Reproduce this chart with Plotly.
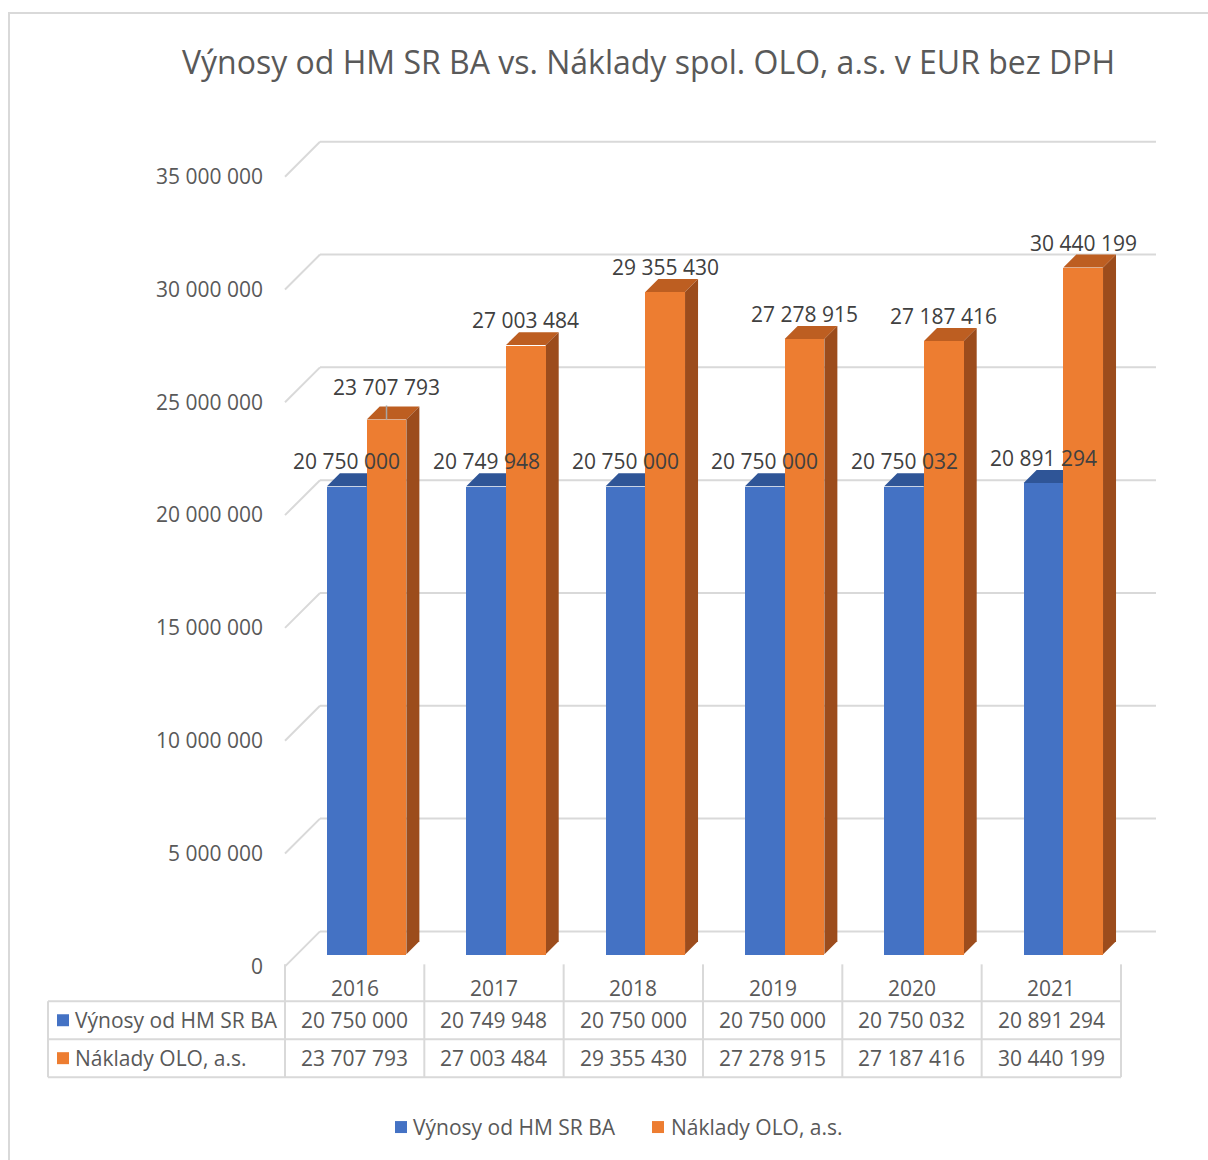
import plotly.graph_objects as go

# ---------------- data ----------------
years = ["2016", "2017", "2018", "2019", "2020", "2021"]
vynosy = [20750000, 20749948, 20750000, 20750000, 20750032, 20891294]
naklady = [23707793, 27003484, 29355430, 27278915, 27187416, 30440199]
series_names = ["Výnosy od HM SR BA", "Náklady OLO, a.s."]
y_ticks = [0, 5000000, 10000000, 15000000, 20000000, 25000000, 30000000, 35000000]
title_text = "Výnosy od HM SR BA vs. Náklady spol. OLO, a.s. v EUR bez DPH"

# ---------------- styling / geometry ----------------
W, H = 1208, 1160
FONT = "Open Sans"
FS = 21
TXT = "#595959"
LBL = "#404040"
GRID = "#D9D9D9"
BLUE, BLUE_TOP, BLUE_SIDE = "#4472C4", "#2F5597", "#2A4D8C"
ORNG, ORNG_TOP, ORNG_SIDE = "#ED7D31", "#BD5E21", "#9C4C1C"

PXU = 139.33          # pixels per category
PXM = 22.6e-6         # pixels per value unit
X0PIX, Y0PIX = 285, 968

XR = [-0.1, 6.35]
YR = [-0.5e6, 37e6]
xdom = [(X0PIX + XR[0] * PXU) / W, (X0PIX + XR[1] * PXU) / W]
ydom = [(H - (Y0PIX - YR[0] * PXM)) / H, (H - (Y0PIX - YR[1] * PXM)) / H]


def px_x(p):
    return p / W


def px_y(p):
    return 1 - p / H


def fmt(v):
    return f"{v:,}".replace(",", " ")


# depth (3D) offsets in data units
DX_FULL = 35 / PXU
DY_FULL = 35 / PXM
DX_FRONT, DY_FRONT = 12 / PXU, 12 / PXM        # bar front plane
DX_BAR, DY_BAR = 13 / PXU, 13 / PXM            # bar depth
BW = 0.285                                    # bar width (category units)

fig = go.Figure()
shapes = []

# back wall gridlines
for v in y_ticks:
    shapes.append(dict(type="line", xref="x", yref="y", x0=0, y0=v, x1=DX_FULL, y1=v + DY_FULL,
                       line=dict(color=GRID, width=2), layer="below"))
    shapes.append(dict(type="line", xref="x", yref="y", x0=DX_FULL, y0=v + DY_FULL,
                       x1=len(years) + DX_FULL, y1=v + DY_FULL,
                       line=dict(color=GRID, width=2), layer="below"))

annotations = []
series = [(vynosy, BLUE, BLUE_TOP, BLUE_SIDE, -1), (naklady, ORNG, ORNG_TOP, ORNG_SIDE, 0)]
for si, (vals, cfront, ctop, cside, off) in enumerate(series):
    xs = []
    for i, v in enumerate(vals):
        xl = i + 0.5 + off * BW + DX_FRONT
        xr = xl + BW
        b = DY_FRONT
        t = b + v
        xs.append(xl + BW / 2)
        # top face
        shapes.append(dict(type="path", xref="x", yref="y",
                           path=f"M{xl},{t} L{xr},{t} L{xr + DX_BAR},{t + DY_BAR} L{xl + DX_BAR},{t + DY_BAR} Z",
                           fillcolor=ctop, line=dict(width=0), layer="below"))
        # side face
        shapes.append(dict(type="path", xref="x", yref="y",
                           path=f"M{xr},{b} L{xr},{t} L{xr + DX_BAR},{t + DY_BAR} L{xr + DX_BAR},{b + DY_BAR} Z",
                           fillcolor=cside, line=dict(width=0), layer="below"))
        # data label
        lift = 25 / PXM
        if si == 1 and i == 0:
            lift = 33 / PXM
            shapes.append(dict(type="line", xref="x", yref="y", x0=xl + BW / 2, y0=t,
                               x1=xl + BW / 2, y1=t + 14 / PXM,
                               line=dict(color="#A6A6A6", width=1.5), layer="above"))
        annotations.append(dict(x=xl + BW / 2, y=t + lift, xref="x", yref="y", text=fmt(v),
                                showarrow=False, xanchor="center", yanchor="middle",
                                font=dict(family=FONT, size=FS, color=LBL)))
    fig.add_trace(go.Bar(x=xs, y=vals, base=[DY_FRONT] * len(vals), width=BW,
                         marker=dict(color=cfront, line=dict(width=0)),
                         name=series_names[si], showlegend=False, hoverinfo="y"))

# ---------------- data table ----------------
col_px = [X0PIX + i * PXU for i in range(len(years) + 1)]
TBL_TOP, ROW1, ROW2, TBL_BOT = 966, 1003, 1041, 1079
LEFT = 48
for cx in col_px:
    shapes.append(dict(type="line", xref="paper", yref="paper", x0=px_x(cx), x1=px_x(cx),
                       y0=px_y(TBL_TOP), y1=px_y(TBL_BOT), line=dict(color=GRID, width=2)))
shapes.append(dict(type="line", xref="paper", yref="paper", x0=px_x(LEFT), x1=px_x(LEFT),
                   y0=px_y(ROW1), y1=px_y(TBL_BOT), line=dict(color=GRID, width=2)))
for ry in (ROW1, ROW2, TBL_BOT):
    shapes.append(dict(type="line", xref="paper", yref="paper", x0=px_x(LEFT), x1=px_x(col_px[-1]),
                       y0=px_y(ry), y1=px_y(ry), line=dict(color=GRID, width=2)))

row_y = [1022, 1060]
for i, yr in enumerate(years):
    cxm = (col_px[i] + col_px[i + 1]) / 2
    annotations.append(dict(x=px_x(cxm), y=px_y(990), xref="paper", yref="paper", text=yr,
                            showarrow=False, xanchor="center", yanchor="middle",
                            font=dict(family=FONT, size=FS, color=TXT)))
    for r, vals in enumerate((vynosy, naklady)):
        annotations.append(dict(x=px_x(cxm), y=px_y(row_y[r]), xref="paper", yref="paper",
                                text=fmt(vals[i]), showarrow=False, xanchor="center", yanchor="middle",
                                font=dict(family=FONT, size=FS, color=TXT)))

for r, (nm, c) in enumerate(zip(series_names, (BLUE, ORNG))):
    shapes.append(dict(type="rect", xref="paper", yref="paper", x0=px_x(57), x1=px_x(69),
                       y0=px_y(row_y[r] - 6), y1=px_y(row_y[r] + 6), fillcolor=c, line=dict(width=0)))
    annotations.append(dict(x=px_x(73), y=px_y(row_y[r]), xref="paper", yref="paper", text=nm,
                            showarrow=False, xanchor="left", yanchor="middle",
                            font=dict(family=FONT, size=FS, color=TXT)))

# ---------------- bottom legend ----------------
leg_items = [(395, 411), (652, 669)]
for (sx, tx), nm, c in zip(leg_items, series_names, (BLUE, ORNG)):
    shapes.append(dict(type="rect", xref="paper", yref="paper", x0=px_x(sx), x1=px_x(sx + 12),
                       y0=px_y(1135), y1=px_y(1123), fillcolor=c, line=dict(width=0)))
    annotations.append(dict(x=px_x(tx), y=px_y(1129), xref="paper", yref="paper", text=nm,
                            showarrow=False, xanchor="left", yanchor="middle",
                            font=dict(family=FONT, size=FS, color=TXT)))

# ---------------- frame + title ----------------
shapes.append(dict(type="rect", xref="paper", yref="paper", x0=px_x(9), x1=px_x(W + 20),
                   y0=px_y(13), y1=px_y(H + 20), line=dict(color=GRID, width=2), fillcolor="rgba(0,0,0,0)"))
annotations.append(dict(x=px_x(648), y=px_y(62), xref="paper", yref="paper", text=title_text,
                        showarrow=False, xanchor="center", yanchor="middle",
                        font=dict(family=FONT, size=32, color=TXT)))

fig.update_layout(
    width=W, height=H, autosize=False,
    margin=dict(l=0, r=0, t=0, b=0),
    paper_bgcolor="white", plot_bgcolor="white",
    barmode="overlay", bargap=0,
    separators=". ",
    showlegend=False,
    shapes=shapes, annotations=annotations,
    xaxis=dict(domain=xdom, range=XR, visible=False, fixedrange=True),
    yaxis=dict(domain=ydom, range=YR, showgrid=False, zeroline=False, showline=False,
               tickmode="array", tickvals=y_ticks, tickformat=",d", ticks="",
               ticklabelstandoff=7,
               tickfont=dict(family=FONT, size=FS, color=TXT), fixedrange=True),
)

fig.write_html("out.html", config={"displayModeBar": False},
               post_script="document.body.style.margin='0';document.body.style.overflow='hidden';")
